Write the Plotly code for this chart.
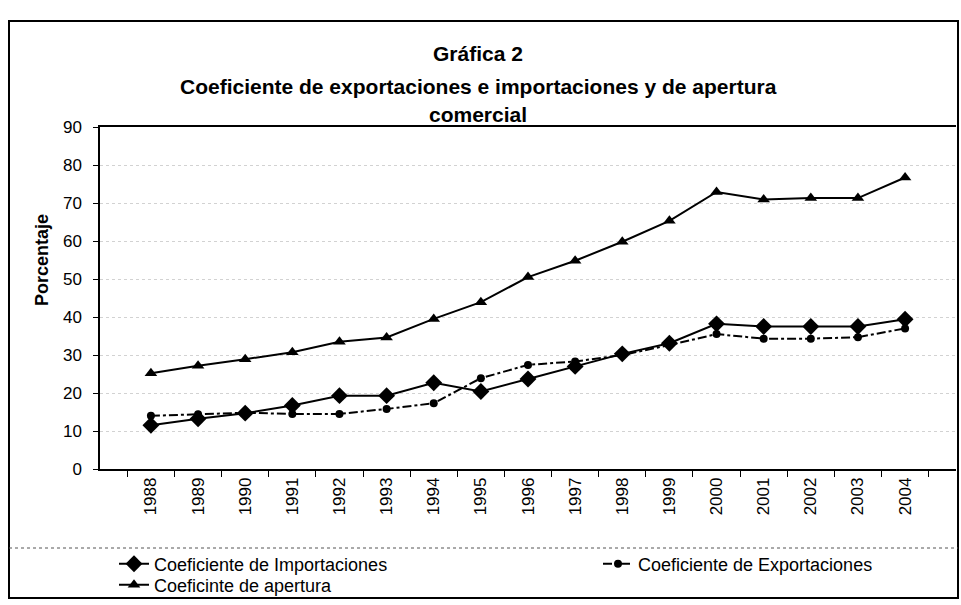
import plotly.graph_objects as go

years = ["1988", "1989", "1990", "1991", "1992", "1993", "1994", "1995", "1996",
         "1997", "1998", "1999", "2000", "2001", "2002", "2003", "2004"]
importaciones = [11.5, 13.2, 14.7, 16.7, 19.3, 19.3, 22.7, 20.4, 23.7,
                 27.0, 30.3, 33.1, 38.2, 37.5, 37.5, 37.5, 39.4]
exportaciones = [14.0, 14.4, 14.8, 14.5, 14.5, 15.8, 17.3, 23.9, 27.4,
                 28.3, 30.0, 32.6, 35.5, 34.3, 34.3, 34.7, 37.0]
apertura = [25.2, 27.2, 28.9, 30.7, 33.5, 34.6, 39.5, 43.9, 50.5,
            54.8, 59.8, 65.3, 72.9, 70.9, 71.3, 71.3, 76.7]
y_ticks = [0, 10, 20, 30, 40, 50, 60, 70, 80, 90]

FONT = "Liberation Sans, Arial, sans-serif"

W, H = 961, 605
ML, MR, MT, MB = 100, 5, 127, 136
pw = W - ML - MR
ph = H - MT - MB


def px_to_paper_x(px):
    return (px - ML) / pw


def px_to_paper_y(py):
    return (H - MB - py) / ph


fig = go.Figure()
fig.add_trace(go.Scatter(
    x=years, y=importaciones, name="Coeficiente de Importaciones",
    mode="lines+markers", legend="legend",
    line=dict(color="black", width=2),
    marker=dict(symbol="diamond", size=13, color="black")))
fig.add_trace(go.Scatter(
    x=years, y=exportaciones, name="Coeficiente de Exportaciones",
    mode="lines+markers", legend="legend2",
    line=dict(color="black", width=2, dash="dashdot"),
    marker=dict(symbol="circle", size=8, color="black")))
fig.add_trace(go.Scatter(
    x=years, y=apertura, name="Coeficinte de apertura",
    mode="lines+markers", legend="legend3",
    line=dict(color="black", width=2),
    marker=dict(symbol="triangle-up", size=11, color="black")))

leg_common = dict(xanchor="left", yanchor="middle", font=dict(size=18, family=FONT),
                  itemwidth=30, bgcolor="rgba(0,0,0,0)", borderwidth=0)

fig.update_layout(
    width=W, height=H,
    margin=dict(l=ML, r=MR, t=MT, b=MB, autoexpand=False),
    paper_bgcolor="white", plot_bgcolor="white",
    font=dict(family=FONT, color="black"),
    showlegend=True,
    legend=dict(x=px_to_paper_x(114), y=px_to_paper_y(564), **leg_common),
    legend2=dict(x=px_to_paper_x(598), y=px_to_paper_y(564), **leg_common),
    legend3=dict(x=px_to_paper_x(114), y=px_to_paper_y(585), **leg_common),
)

for txt, py in [("<b>Gráfica 2</b>", 40),
                ("<b>Coeficiente de exportaciones e importaciones y de apertura</b>", 73),
                ("<b>comercial</b>", 101)]:
    fig.add_annotation(text=txt, x=px_to_paper_x(478), y=px_to_paper_y(py),
                       xref="paper", yref="paper", showarrow=False,
                       font=dict(size=21, family=FONT))

fig.update_xaxes(
    type="category", showline=True, linecolor="black", linewidth=1.5, mirror=True,
    ticks="outside", ticklen=6, tickcolor="black", tickson="boundaries",
    tickangle=-90, tickfont=dict(size=17, family=FONT),
    showgrid=False, zeroline=False)
fig.update_yaxes(
    range=[0, 90], tickvals=y_ticks, showline=True, linecolor="black", linewidth=1.5,
    ticks="outside", ticklen=5, tickcolor="black", ticklabelstandoff=8,
    tickfont=dict(size=17, family=FONT),
    showgrid=True, gridcolor="#d2d2d2", griddash="dot", gridwidth=1,
    zeroline=False)

fig.add_annotation(text="<b>Porcentaje</b>", textangle=-90,
                   x=px_to_paper_x(30), y=px_to_paper_y(260),
                   xref="paper", yref="paper", showarrow=False,
                   font=dict(size=18, family=FONT))

# outer frame and legend separator
fig.add_shape(type="rect", xref="paper", yref="paper",
              x0=px_to_paper_x(9), x1=px_to_paper_x(958),
              y0=px_to_paper_y(598), y1=px_to_paper_y(21),
              line=dict(color="black", width=2))
fig.add_shape(type="line", xref="paper", yref="paper",
              x0=px_to_paper_x(9), x1=px_to_paper_x(958),
              y0=px_to_paper_y(548), y1=px_to_paper_y(548),
              line=dict(color="#555555", width=1, dash="dot"))

fig.write_html("out.html",
               config={"displayModeBar": False},
               post_script="document.body.style.margin='0';document.body.style.overflow='hidden';")
